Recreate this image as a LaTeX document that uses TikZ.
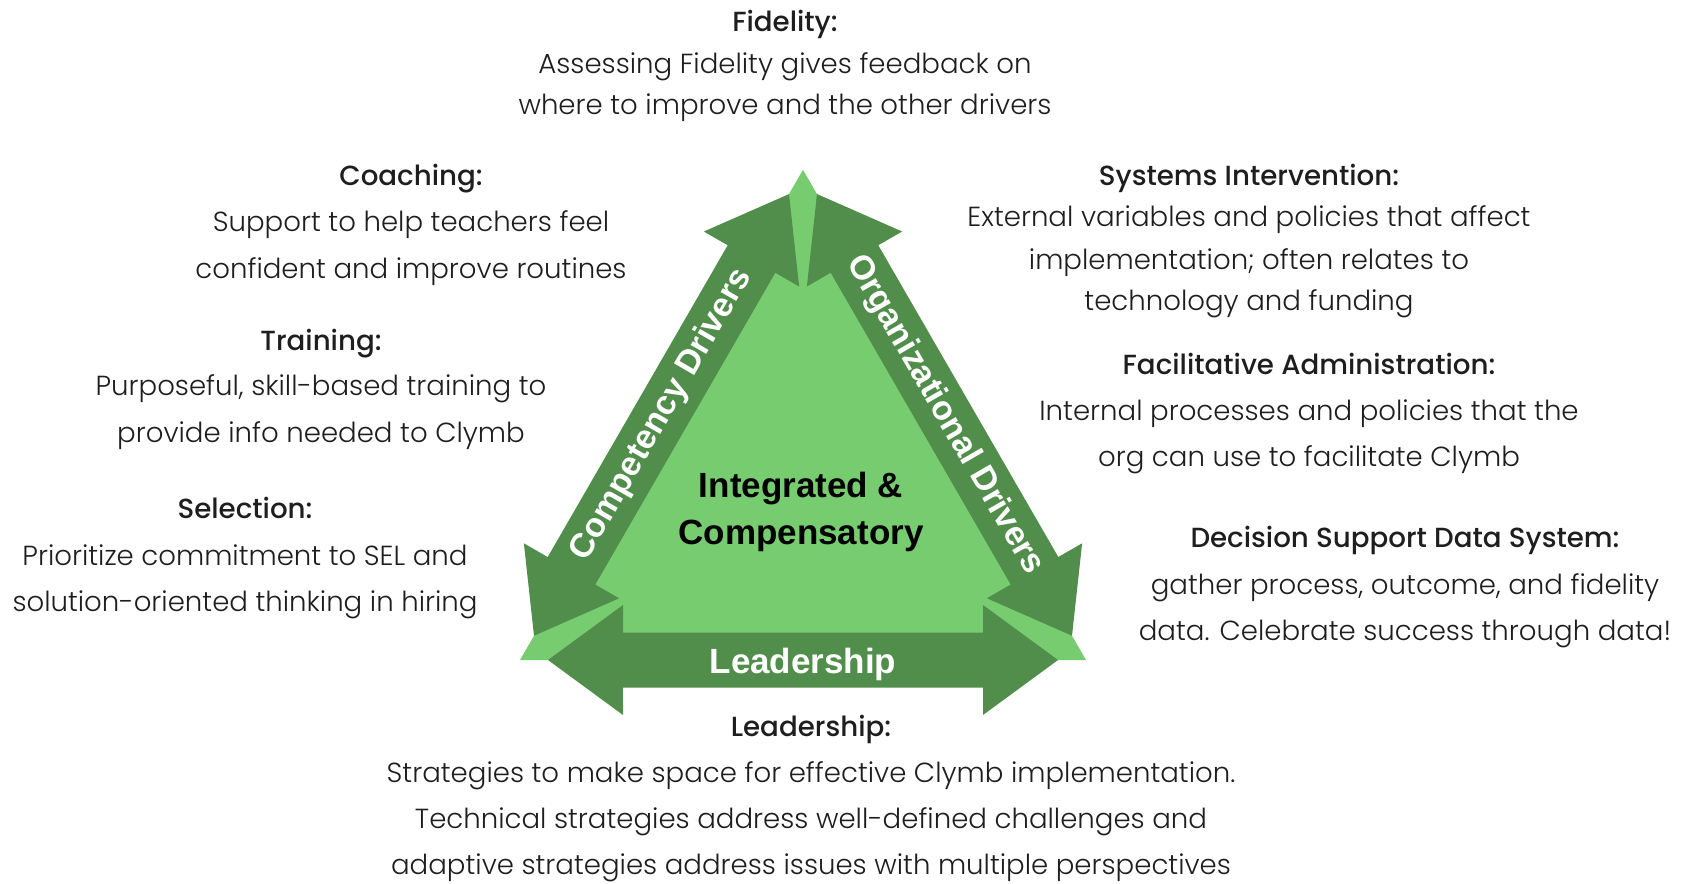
\documentclass[tikz,border=0pt]{standalone}
\usepackage{fontspec}
\setmainfont{Poppins Light}[BoldFont={Poppins Medium}]
\newfontfamily\trifont{Liberation Sans}
\usetikzlibrary{calc}
\definecolor{leafdark}{HTML}{518E4B}
\definecolor{leaflight}{HTML}{78CC70}
\definecolor{ink}{HTML}{1E1E1E}
\begin{document}
\begin{tikzpicture}[x=1pt,y=-1pt,
  txt/.style={anchor=mid, inner sep=0pt, text=ink, font=\fontsize{27.6}{27.6}\selectfont},
  head/.style={anchor=mid, inner sep=0pt, text=ink, font=\fontsize{27.7}{27.7}\selectfont\bfseries},
  tri/.style={inner sep=0pt, text=white, font=\trifont\bfseries\fontsize{34}{34}\selectfont},
  dblarrow/.pic={\fill[leafdark] (0,0) -- (75,55) -- (75,27.5) -- (435,27.5) -- (435,55)
     -- (510,0) -- (435,-55) -- (435,-27.5) -- (75,-27.5) -- (75,-55) -- cycle;}
]
\useasboundingbox (0,0) rectangle (1691,883);
% corners of the triangle
\coordinate (A) at (803,169.8);
\coordinate (B) at (520,660);
\coordinate (C) at (1086,660);
\fill[leaflight] (A) -- (B) -- (C) -- cycle;
% double arrows along the three sides
\pic[rotate=60] at ($(B)!28pt!(A)$) {dblarrow};
\pic[rotate=-60] at ($(A)!28pt!(C)$) {dblarrow};
\pic at ($(B)!28pt!(C)$) {dblarrow};
% arrow labels
\node[tri, rotate=60] (comp) at ($(A)!0.5!(B)$) {Competency Drivers};
\node[tri, rotate=-60] (org) at ($(A)!0.5!(C)$) {Organizational Drivers};
\node[tri, font=\trifont\bfseries\fontsize{35}{35}\selectfont] (lead) at ($(B)!0.5!(C)+(0,4)$) {Leadership};
\node[inner sep=0pt, align=center, text=black, font=\trifont\bfseries\fontsize{35}{47}\selectfont] (core) at (801,512) {Integrated \&\\Compensatory};

% Fidelity
\node[head] (fid0) at (785,29) {Fidelity:};
\node[txt] (fid1) at (785,70.6) {Assessing Fidelity gives feedback on};
\node[txt] (fid2) at (785,111.6) {where to improve and the other drivers};
% Coaching
\node[head] (coa0) at (411,183) {Coaching:};
\node[txt] (coa1) at (411,229) {Support to help teachers feel};
\node[txt] (coa2) at (411,275.5) {confident and improve routines};
% Training
\node[head] (tra0) at (321,348) {Training:};
\node[txt] (tra1) at (321,393) {Purposeful, skill-based training to};
\node[txt] (tra2) at (321,439.5) {provide info needed to Clymb};
% Selection
\node[head] (sel0) at (245,516) {Selection:};
\node[txt] (sel1) at (245,562.4) {Prioritize commitment to SEL and};
\node[txt] (sel2) at (245,608.7) {solution-oriented thinking in hiring};
% Systems Intervention
\node[head] (sys0) at (1249,183) {Systems Intervention:};
\node[txt] (sys1) at (1249,223.8) {External variables and policies that affect};
\node[txt] (sys2) at (1249,267) {implementation; often relates to};
\node[txt] (sys3) at (1249,308) {technology and funding};
% Facilitative Administration
\node[head] (fac0) at (1309,371.5) {Facilitative Administration:};
\node[txt] (fac1) at (1309,418) {Internal processes and policies that the};
\node[txt] (fac2) at (1309,464) {org can use to facilitate Clymb};
% Decision Support Data System
\node[head] (dsd0) at (1405,545) {Decision Support Data System:};
\node[txt] (dsd1) at (1405,591.5) {gather process, outcome, and fidelity};
\node[txt] (dsd2) at (1405,638) {data. Celebrate success through data!};
% Leadership
\node[head] (ldr0) at (811,734) {Leadership:};
\node[txt] (ldr1) at (811,780) {Strategies to make space for effective Clymb implementation.};
\node[txt] (ldr2) at (811,826) {Technical strategies address well-defined challenges and};
\node[txt] (ldr3) at (811,871.5) {adaptive strategies address issues with multiple perspectives};
\end{tikzpicture}
\end{document}
